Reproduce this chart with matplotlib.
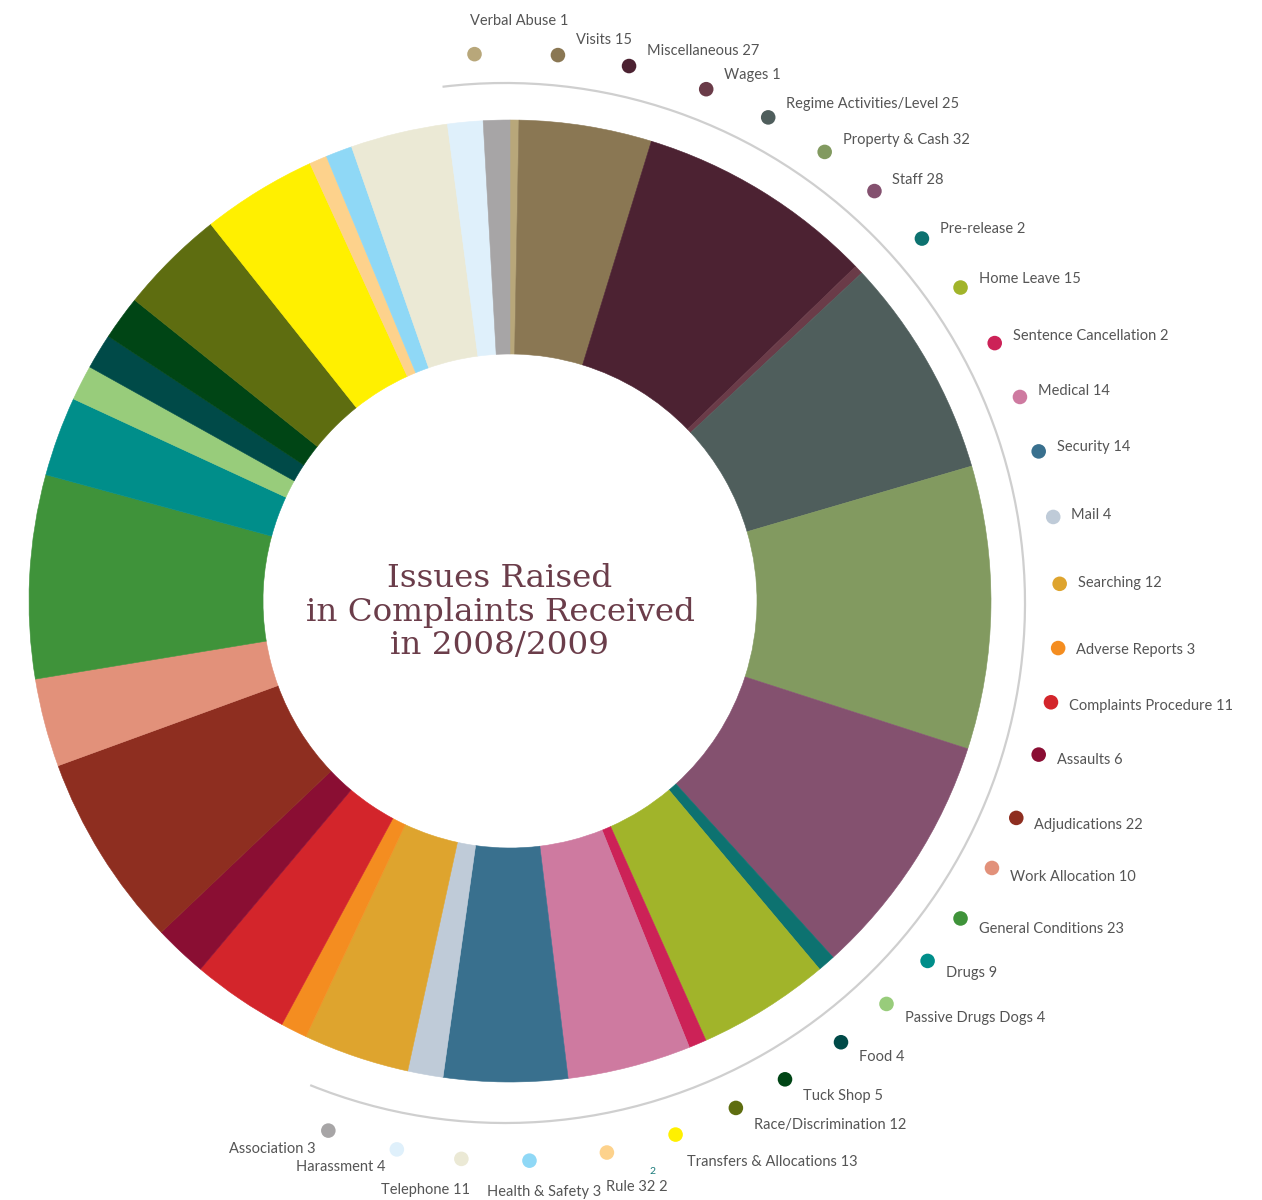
"""Donut chart: issues raised in complaints received 2008/2009."""

import matplotlib

matplotlib.use("Agg")
import matplotlib.pyplot as plt
import numpy as np
from matplotlib.patches import Arc

categories = [
    "Verbal Abuse", "Visits", "Miscellaneous", "Wages", "Regime Activities/Level",
    "Property & Cash", "Staff", "Pre-release", "Home Leave", "Sentence Cancellation",
    "Medical", "Security", "Mail", "Searching", "Adverse Reports",
    "Complaints Procedure", "Assaults", "Adjudications", "Work Allocation",
    "General Conditions", "Drugs", "Passive Drugs Dogs", "Food", "Tuck Shop",
    "Race/Discrimination", "Transfers & Allocations", "Rule 32", "Health & Safety",
    "Telephone", "Harassment", "Association",
]
counts = [1, 15, 27, 1, 25, 32, 28, 2, 15, 2, 14, 14, 4, 12, 3, 11, 6, 22, 10,
          23, 9, 4, 4, 5, 12, 13, 2, 3, 11, 4, 3]
colors = [
    "#b8a77a", "#8a7753", "#4c2232", "#6a3b48", "#4f5e5c", "#829a60", "#84516f",
    "#0d7270", "#a1b42a", "#cc2257", "#ce7aa0", "#39708e", "#bfcbd8", "#dea42e",
    "#f48d20", "#d3252b", "#8a0e33", "#8e2e20", "#e2917a", "#3f933a", "#008e8a",
    "#98cc7b", "#004a48", "#004515", "#5e6d10", "#fff000", "#fdd28c", "#8fd8f6",
    "#ebe9d5", "#dff0fb", "#a7a5a6",
]

# layout: where each label dot sits (degrees clockwise from top)
dot_angles = [-3.7, 5, 12.5, 20.9, 28, 34.9, 41.5, 48.5, 55, 61.8, 68, 74, 81, 88,
              94.7, 100.4, 106, 113, 118.8, 125, 130.6, 136.8, 143, 150, 155.9,
              162.7, 170, 178, 185, 191.7, 199]

W, H = 1262, 1200
CX, CY = 510, H - 601
R_OUT, R_IN = 481, 247
TEXT_COLOR = "#555555"

fig = plt.figure(figsize=(W / 100, H / 100), dpi=100)
ax = fig.add_axes([0, 0, 1, 1])

ax.pie(
    counts,
    colors=colors,
    startangle=90,
    counterclock=False,
    center=(CX, CY),
    radius=R_OUT,
    wedgeprops=dict(width=R_OUT - R_IN, linewidth=0.4, antialiased=True),
)
for w, c in zip(ax.patches, colors):
    w.set_edgecolor(c)

# grey guide arc outside the ring
ax.add_patch(Arc((505, H - 603), 2 * 520, 2 * 520, theta1=-112, theta2=96.9,
                 color="#cfcfcf", lw=1.6))

ang = np.asarray(dot_angles)
rad = np.deg2rad(ang)
dot_r = 550 + 8 * np.clip((ang - 150) / 15, 0, 1)
dot_x = 510 + dot_r * np.sin(rad)
dot_y = H - 603 + dot_r * np.cos(rad)
ax.scatter(dot_x, dot_y, s=110, c=colors, linewidths=0, zorder=3)

special = {
    0: ("left", -5, 33),
    25: ("left", 11, -27),
    26: ("left", -1, -34),
    27: ("center", 15, -31),
    28: ("right", 9, -31),
    29: ("right", -11, -18),
    30: ("right", -13, -18),
}
for i, (name, val) in enumerate(zip(categories, counts)):
    label = f"{name} {val}"
    if i in special:
        ha, dx, dy = special[i]
    else:
        c = np.cos(rad[i])
        ha, dx, dy = "left", 18, (15 * c if c > 0 else 19 * c)
    ax.text(dot_x[i] + dx, dot_y[i] + dy, label, ha=ha, va="center",
            fontsize=10.5, color=TEXT_COLOR, family="Lato")

ax.text(652, H - 1171, "2", ha="center", va="center", fontsize=7.5,
        color="#1a7a7a", family="Lato")

ax.text(CX - 10, CY - 11, "Issues Raised\nin Complaints Received\nin 2008/2009",
        ha="center", va="center", fontsize=23.4, color="#6b3d4a",
        family="DejaVu Serif", linespacing=1.1)

ax.set_xlim(0, W)
ax.set_ylim(0, H)
ax.set_aspect("equal")
ax.axis("off")

fig.savefig("out.png", dpi=100, facecolor="white")
